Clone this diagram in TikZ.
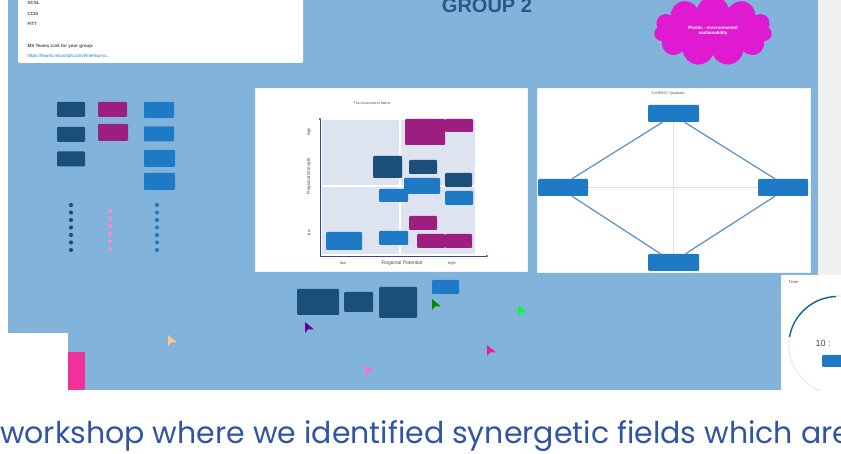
\documentclass[tikz,border=0pt]{standalone}
\usepackage{fontspec}
\setmainfont{Liberation Sans}
\newfontfamily\popfont{Poppins}
\usetikzlibrary{shapes.symbols, arrows.meta}
\definecolor{board}{RGB}{130,180,219}
\definecolor{navyc}{RGB}{27,79,122}
\definecolor{plumc}{RGB}{156,30,128}
\definecolor{bluec}{RGB}{30,122,196}
\definecolor{quadc}{RGB}{222,227,240}
\definecolor{axisc}{RGB}{45,75,140}
\definecolor{linec}{RGB}{92,142,198}
\definecolor{cloudc}{RGB}{224,26,208}
\definecolor{titlec}{RGB}{38,88,138}
\definecolor{textc}{RGB}{47,85,164}
\tikzset{
  card/.style={rounded corners=1pt, inner sep=0pt, text=white, align=center,
    font=\fontsize{3}{3.5}\selectfont},
  navybox/.style={card, fill=navyc},
  plumbox/.style={card, fill=plumc},
  bluebox/.style={card, fill=bluec},
  panel/.style={fill=white, draw=white!85!board, line width=0.6pt},
  tiny/.style={font=\fontsize{4}{5}\selectfont, text=black!70}
}
\begin{document}
\begin{tikzpicture}[x=1pt, y=-1pt]
\useasboundingbox (0,0) rectangle (841,454);
% board and side strip
\fill[white] (0,0) rectangle (841,454);
\fill[black!6] (818,0) rectangle (841,276);
\fill[board] (8,0) rectangle (818,390);

% info card at the top
\fill[white, rounded corners=2pt] (18,-5) rectangle (303,63);
\node[tiny, anchor=west, font=\bfseries\fontsize{4.5}{5}\selectfont] (t1) at (24,3) {SCSL};
\node[tiny, anchor=west, font=\bfseries\fontsize{4.5}{5}\selectfont] (t2) at (24,14) {CCIS};
\node[tiny, anchor=west, font=\bfseries\fontsize{4.5}{5}\selectfont] (t3) at (24,24) {FITT};
\node[tiny, anchor=west, font=\bfseries\fontsize{4.5}{5}\selectfont] (t4) at (24,46) {MS Teams Link for your group:};
\node[tiny, anchor=west, text=bluec, font=\fontsize{4.5}{5}\selectfont] (t5) at (24,56) {https://teams.microsoft.com/l/meetup-jo...};

\node[text=titlec, font=\bfseries\fontsize{20}{20}\selectfont, anchor=base] (grp) at (487,13) {GROUP 2};
\node[cloud, cloud puffs=11, aspect=1.8, fill=cloudc, minimum width=118pt, minimum height=70pt,
  text=white, align=center, font=\bfseries\fontsize{4.5}{5.5}\selectfont] (cl) at (713,31)
  {Plastic - environmental\\sustainability};

% legend columns
\node[navybox, minimum width=28pt, minimum height=15pt] (n1) at (71,109.5) {};
\node[navybox, minimum width=28pt, minimum height=15pt] (n2) at (71,134.5) {};
\node[navybox, minimum width=28pt, minimum height=15pt] (n3) at (71,159) {};
\node[plumbox, minimum width=29pt, minimum height=15pt] (p1) at (112.5,109.5) {};
\node[plumbox, minimum width=30pt, minimum height=17pt] (p2) at (113,132.5) {};
\node[bluebox, minimum width=30pt, minimum height=16pt] (b1) at (159,110) {};
\node[bluebox, minimum width=30pt, minimum height=15pt] (b2) at (159,134) {};
\node[bluebox, minimum width=31pt, minimum height=17pt] (b3) at (159.5,158.5) {};
\node[bluebox, minimum width=31pt, minimum height=17pt] (b4) at (159.5,181.5) {};
\foreach \i in {0,...,6} {
  \fill[navyc] (71,{205+7.5*\i}) circle (2.1pt);
  \fill[bluec] (157,{205+7.5*\i}) circle (2.1pt);
}
\foreach \i in {0,...,5}
  \fill[magenta!45] (110,{211+7.6*\i}) circle (2.1pt);

% assessment matrix
\fill[panel] (255,88) rectangle (527,271);
\node[tiny, font=\fontsize{3.5}{4}\selectfont] (mt) at (372,103) {The Assessment Matrix};
\fill[quadc] (322,120) rectangle (475,254);
\draw[white, line width=1.5pt] (400,120) -- (400,254);
\draw[white, line width=1.5pt] (322,186) -- (475,186);
\draw[axisc, line width=0.9pt, -{Latex[length=3pt]}] (320,256) -- (320,117);
\draw[axisc, line width=0.9pt, -{Latex[length=3pt]}] (320,256) -- (489,256);
\node[tiny, font=\fontsize{5}{5}\selectfont] (xl) at (402,263.5) {Regional Potential};
\node[tiny, font=\fontsize{4}{4}\selectfont] (xlo) at (343,263.5) {low};
\node[tiny, font=\fontsize{4}{4}\selectfont] (xhi) at (452,263.5) {high};
\node[tiny, rotate=90, font=\fontsize{4.5}{4.5}\selectfont] (yl) at (309,176) {Regional Strength};
\node[tiny, rotate=90, font=\fontsize{4}{4}\selectfont] (ylo) at (309,233) {low};
\node[tiny, rotate=90, font=\fontsize{4}{4}\selectfont] (yhi) at (309,132) {high};
\node[plumbox, minimum width=40pt, minimum height=26pt] (m1) at (425,132) {};
\node[plumbox, minimum width=28pt, minimum height=13pt] (m2) at (459,125.5) {};
\node[navybox, minimum width=29pt, minimum height=22pt] (m3) at (387.5,167) {};
\node[navybox, minimum width=28pt, minimum height=14pt] (m4) at (423,167) {};
\node[bluebox, minimum width=36pt, minimum height=16pt] (m5) at (422,186) {};
\node[navybox, minimum width=27pt, minimum height=14pt] (m6) at (458.5,180) {};
\node[bluebox, minimum width=29pt, minimum height=13pt] (m7) at (393.5,195.5) {};
\node[bluebox, minimum width=28pt, minimum height=14pt] (m8) at (459,198) {};
\node[plumbox, minimum width=28pt, minimum height=14pt] (m9) at (423,223) {};
\node[bluebox, minimum width=36pt, minimum height=18pt] (m10) at (344,241) {};
\node[bluebox, minimum width=29pt, minimum height=14pt] (m11) at (393.5,238) {};
\node[plumbox, minimum width=28pt, minimum height=14pt] (m12) at (431,241) {};
\node[plumbox, minimum width=27pt, minimum height=14pt] (m13) at (458.5,241) {};

% synergy quadrant
\fill[panel] (537,88) rectangle (810,272);
\node[tiny, font=\fontsize{3.5}{4}\selectfont] (st) at (668,94) {SYNERGY Quadrant};
\node[bluebox, minimum width=51pt, minimum height=17pt] (s1) at (673.5,113.5) {};
\node[bluebox, minimum width=50pt, minimum height=17pt] (s2) at (563,187.5) {};
\node[bluebox, minimum width=50pt, minimum height=17pt] (s3) at (783,187.5) {};
\node[bluebox, minimum width=51pt, minimum height=17pt] (s4) at (673.5,262.5) {};
\draw[black!12, line width=0.6pt] (s2.east) -- (s3.west);
\draw[black!12, line width=0.6pt] (s1.south) -- (s4.north);
\draw[linec, line width=1.2pt] ([xshift=-11pt]s1.south) -- ([xshift=9pt]s2.north);
\draw[linec, line width=1.2pt] ([xshift=11pt]s1.south) -- ([xshift=-8pt]s3.north);
\draw[linec, line width=1.2pt] ([xshift=9pt]s2.south) -- ([xshift=-13pt]s4.north);
\draw[linec, line width=1.2pt] ([xshift=-8pt]s3.south) -- ([xshift=12pt]s4.north);

% cards below the panels
\node[navybox, minimum width=42pt, minimum height=26pt] (q1) at (318,302) {};
\node[navybox, minimum width=29pt, minimum height=20pt] (q2) at (358.5,302) {};
\node[navybox, minimum width=38pt, minimum height=31pt] (q3) at (398,302.5) {};
\node[bluebox, minimum width=27pt, minimum height=14pt] (q4) at (445.5,287) {};

% cursors
\foreach \cx/\cy/\cc in {168/335/orange!45, 305/322/violet!80!blue, 432/299/green!55!black,
    518/305/green!75!cyan, 487/345/magenta!90, 365/365/magenta!55} {
  \fill[\cc] (\cx,\cy) -- ++(0,11) -- ++(3,-3.5) -- ++(6,0) -- cycle;
}

% bottom left card
\fill[white] (8,333) rectangle (68,390);
\fill[magenta!75!pink] (68,352) rectangle (85,390);

% timer
\fill[white] (781,275) rectangle (841,390);
\begin{scope}
  \clip (781,275) rectangle (841,390);
  \node[tiny, anchor=west, font=\fontsize{4}{4}\selectfont] (tm) at (785,282) {Timer};
  \draw[black!8, line width=1.2pt] (838,345) circle (49pt);
  \draw[bluec!80!black, line width=1.4pt] (789.5,337) arc[start angle=170, end angle=92, radius=49pt];
  \node[text=black!70, font=\fontsize{9}{9}\selectfont, anchor=west] (tv) at (812,343) {10 :};
  \fill[bluec, rounded corners=1pt] (822,355) rectangle (845,367);
\end{scope}

% caption line
\node[text=textc, font=\popfont\fontsize{30}{30}\selectfont, anchor=base west, inner sep=0pt] (cap) at (0,443)
  {workshop where we identified synergetic fields which are};
\end{tikzpicture}
\end{document}
